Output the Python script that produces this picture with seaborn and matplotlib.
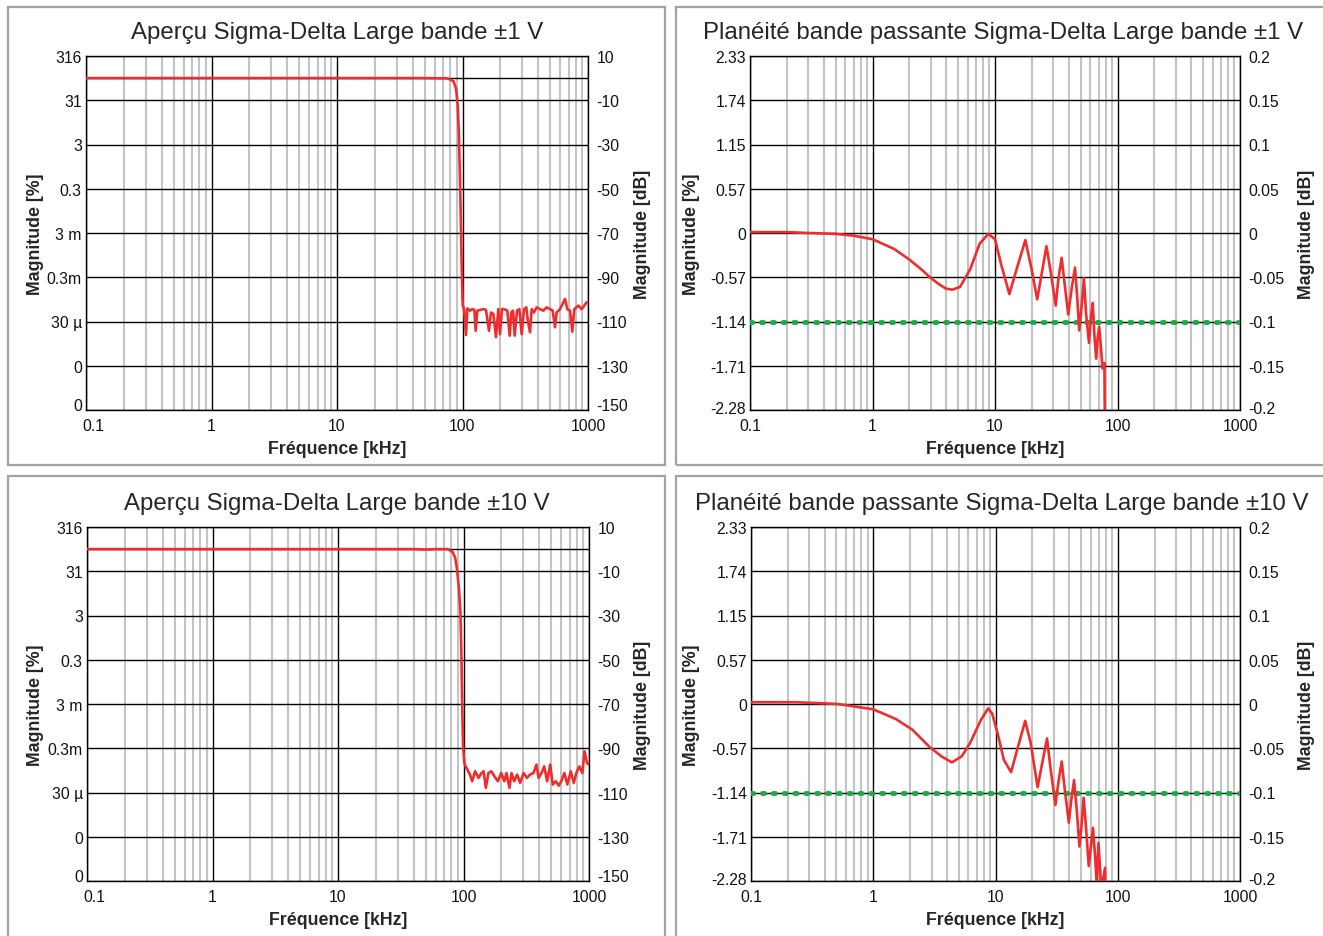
import numpy as np
import pandas as pd
import matplotlib
matplotlib.use("Agg")
import matplotlib.pyplot as plt
from matplotlib.patches import Rectangle
from matplotlib.transforms import ScaledTranslation
import seaborn as sns

sns.set_style("white")
plt.rcParams['font.family'] = ['Liberation Sans', 'DejaVu Sans']
plt.rcParams['lines.scale_dashes'] = False

# ---------------- data ----------------
titles = ["Aperçu Sigma-Delta Large bande ±1 V",
          "Planéité bande passante Sigma-Delta Large bande ±1 V",
          "Aperçu Sigma-Delta Large bande ±10 V",
          "Planéité bande passante Sigma-Delta Large bande ±10 V"]

x_ticks = [0.1, 1, 10, 100, 1000]
x_ticklabels = ["0.1", "1", "10", "100", "1000"]

ov_db_ticks = [10, 0, -10, -30, -50, -70, -90, -110, -130, -150]
ov_left_labels = ["316", "", "31", "3", "0.3", "3 m", "0.3m", "30 µ", "0", "0"]
ov_right_labels = ["10", "", "-10", "-30", "-50", "-70", "-90", "-110", "-130", "-150"]

fl_db_ticks = [0.2, 0.15, 0.1, 0.05, 0, -0.05, -0.1, -0.15, -0.2]
fl_left_labels = ["2.33", "1.74", "1.15", "0.57", "0", "-0.57", "-1.14", "-1.71", "-2.28"]
fl_right_labels = ["0.2", "0.15", "0.1", "0.05", "0", "-0.05", "-0.1", "-0.15", "-0.2"]

# Overview ±1 V
ov1_freq = [0.1, 1, 10, 50, 75, 80, 85, 89, 91.5, 93.5, 95.5, 97, 98.5, 100.4,
            103.0, 106.6, 109.3, 114.8, 120, 124.3, 127.3, 131.3, 140, 146.5, 153.9,
            162.6, 168.7, 176.1, 184.9, 192.9, 199.0, 206.4, 214.1, 227.6, 237.6,
            245.0, 252.6, 260.5, 271.8, 283.7, 296.2, 309.0, 322.4, 330.4, 345.0,
            355.7, 371.2, 389.9, 414.4, 440.5, 468.5, 497.8, 523, 545.8, 562.7,
            598.4, 655.6, 684.3, 718.8, 750, 778, 837.5, 890, 976]
ov1_db = [0, 0, 0, 0, -0.1, -0.6, -1.5, -5, -12, -25, -45, -65, -85, -102.8,
          -104.4, -116.1, -104.1, -105.1, -104.4, -104.7, -114.2, -105.1, -104.7, -104.4, -104.7,
          -114.2, -105.9, -106.6, -117.1, -104.4, -115.7, -104.4, -104.4, -105.1, -116.4,
          -105.9, -105.1, -116.4, -105.1, -104.4, -115.7, -104.4, -103.6, -108.9, -114.9,
          -104.4, -105.9, -103.6, -104.4, -105.1, -103.6, -104.4, -105.1, -112.6, -105.9,
          -104.4, -99.8, -104.4, -105.1, -114.6, -104.4, -102.8, -104.4, -101.3]

# Overview ±10 V
ov10_freq = [0.1, 1, 10, 40, 50, 60, 75, 82, 86, 89, 92, 94.6, 96, 96.9, 98, 99.2, 101.6,
             104.0, 112.5, 117.1, 123.7, 131.7, 139.2, 144.7, 150.6, 157.9, 166.8, 176.3,
             187.7, 199.9, 211.3, 219.8, 232.2, 241.5, 253.2, 267.5, 282.7, 301.1, 320.6,
             338.8, 360.8, 381.3, 396.6, 419.1, 439.4, 464.2, 490.5, 514.2, 543.3, 574.1,
             601.8, 636, 672.1, 715.8, 756.3, 792.9, 837.7, 885.1, 920.6, 965.2, 1000]
ov10_db = [0, 0, 0, 0, -0.2, 0, 0, -1.3, -4, -9.5, -18, -29, -45, -59, -75, -89, -96.7,
           -98.2, -101.9, -104.9, -100.4, -103.4, -101.2, -100.4, -107.9, -101.2, -100.4, -102.7,
           -104.9, -101.2, -104.9, -101.2, -107.9, -101.2, -104.9, -101.9, -105.7, -101.2, -103.4,
           -101.9, -101.2, -97.4, -103.4, -101.2, -98.2, -104.9, -97.4, -106.4, -104.9, -106.9,
           -104.9, -101.2, -106.4, -100.4, -105.7, -101.2, -98.2, -101.2, -91.4, -96.7, -97.4]

# Flatness ±1 V
fl1_freq = [0.1, 0.2, 0.3, 0.5, 0.7, 1.0, 1.5, 2.0, 2.5, 3.0, 3.5, 4.0, 4.5, 5.18, 6.27,
            7.5, 8.82, 10.0, 11.3, 13.1, 15.0, 17.7, 19.9, 22.1, 24.4, 26.3, 28.5, 31.3,
            32.9, 35.0, 37.2, 39.6, 42.2, 45.0, 47.0, 48.7, 51.0, 53.2, 55.3, 58.5, 60.8,
            62.8, 64.8, 67.0, 68.7, 70.9, 73.4, 75.4, 78.2, 79.5]
fl1_db = [0.001, 0.001, 0.0, -0.001, -0.003, -0.007, -0.018, -0.030, -0.041, -0.051, -0.058,
          -0.063, -0.064, -0.061, -0.041, -0.012, -0.001, -0.007, -0.037, -0.069, -0.041,
          -0.008, -0.041, -0.075, -0.041, -0.015, -0.044, -0.082, -0.052, -0.028, -0.060,
          -0.092, -0.063, -0.039, -0.075, -0.110, -0.082, -0.051, -0.090, -0.124, -0.095,
          -0.079, -0.116, -0.142, -0.120, -0.106, -0.131, -0.153, -0.147, -0.30]

# Flatness ±10 V
fl10_freq = [0.1, 0.236, 0.515, 1.0, 1.53, 2.09, 2.86, 3.6, 4.4, 5.3, 6.2, 7.6, 8.7, 9.4,
             10.4, 11.7, 13.4, 15.3, 17.5, 19.4, 22.1, 24.4, 26.4, 28.1, 30.9, 32.9, 34.8,
             36.9, 39.8, 41.7, 43.9, 46.4, 48.6, 50.5, 52.6, 55.2, 57.9, 60.3, 62.7, 65.3,
             67.3, 69.5, 73.5, 78.7, 80.8]
fl10_db = [0.002, 0.002, 0.0, -0.006, -0.017, -0.029, -0.048, -0.059, -0.066, -0.059, -0.044,
           -0.018, -0.005, -0.011, -0.033, -0.063, -0.077, -0.048, -0.019, -0.044, -0.094,
           -0.063, -0.039, -0.071, -0.114, -0.086, -0.065, -0.097, -0.134, -0.108, -0.086,
           -0.123, -0.161, -0.138, -0.106, -0.142, -0.183, -0.161, -0.140, -0.172, -0.205,
           -0.157, -0.210, -0.185, -0.30]

limit_freq = [0.1, 1000]
limit_db = [-0.1, -0.1]

RED = "#ee2e2e"
GREEN = "#1ea84a"
TICK_FS = 11.3
LABEL_FS = 12.8

# ---------------- figure ----------------
W, H = 1323, 937
fig = plt.figure(figsize=(W / 100, H / 100), dpi=100)

def fax(l, t, r, b):
    return fig.add_axes([l / W, 1 - b / H, (r - l) / W, (b - t) / H])

def shift(label, dx_px, dy_px):
    label.set_transform(label.get_transform() +
                        ScaledTranslation(dx_px / 100, dy_px / 100, fig.dpi_scale_trans))

# panel frames
for (l, t, r, b) in [(8, 8, 665, 466), (676, 8, 1330, 466), (8, 477, 665, 945), (676, 477, 1330, 945)]:
    fig.patches.append(Rectangle((l / W, 1 - b / H), (r - l) / W, (b - t) / H,
                                 transform=fig.transFigure, fill=False,
                                 edgecolor="#a3a3a3", linewidth=1.6, zorder=0))

panels = [
    dict(box=(86, 57, 588, 411), kind="ov", f=ov1_freq, d=ov1_db, title=titles[0],
         title_x=337, yl_x=44, yr_x=634),
    dict(box=(750, 57, 1240, 411), kind="fl", f=fl1_freq, d=fl1_db, title=titles[1],
         title_x=1003, yl_x=700, yr_x=1298),
    dict(box=(87, 528, 589, 882), kind="ov", f=ov10_freq, d=ov10_db, title=titles[2],
         title_x=337, yl_x=44, yr_x=634),
    dict(box=(751, 528, 1240, 882), kind="fl", f=fl10_freq, d=fl10_db, title=titles[3],
         title_x=1002, yl_x=700, yr_x=1298),
]

for p in panels:
    l, t, r, b = p["box"]
    ax = fax(l, t, r, b)
    ax.set_xscale("log")
    ax.set_xlim(0.1, 1000)
    if p["kind"] == "ov":
        ylim = (-150, 10)
        yt, yl, yr = ov_db_ticks, ov_left_labels, ov_right_labels
    else:
        ylim = (-0.2, 0.2)
        yt, yl, yr = fl_db_ticks, fl_left_labels, fl_right_labels
    ax.set_ylim(*ylim)

    # grid
    ax.set_xticks(x_ticks)
    ax.set_xticklabels(x_ticklabels)
    ax.xaxis.set_minor_locator(matplotlib.ticker.LogLocator(base=10, subs=np.arange(2, 10), numticks=20))
    ax.xaxis.set_minor_formatter(matplotlib.ticker.NullFormatter())
    ax.set_yticks(yt)
    ax.set_yticklabels(yl)
    ax.grid(which="minor", axis="x", color="#c4c4c4", linewidth=1.5, zorder=1)
    ax.grid(which="major", axis="x", color="#000000", linewidth=1.0, zorder=1.2)
    ax.grid(which="major", axis="y", color="#000000", linewidth=1.0, zorder=1.2)
    ax.set_axisbelow(True)
    ax.tick_params(axis="both", which="both", length=0, labelsize=TICK_FS, colors="#111111")
    ax.tick_params(axis="y", pad=3)
    ax.tick_params(axis="x", pad=6)
    for s in ax.spines.values():
        s.set_color("#000000")
        s.set_linewidth(1.0)

    if p["kind"] == "fl":
        sns.lineplot(x=limit_freq, y=limit_db, ax=ax, color=GREEN, linewidth=3.5,
                     linestyle=(0, (1.7, 6.1)), dash_capstyle="round", zorder=3)
    df = pd.DataFrame({"f": p["f"], "db": p["d"]})
    sns.lineplot(data=df, x="f", y="db", ax=ax, color=RED, linewidth=1.9,
                 sort=False, estimator=None, zorder=4)

    ax.set_xlabel("Fréquence [kHz]", fontsize=LABEL_FS, fontweight="bold", labelpad=5)
    ax.set_ylabel("Magnitude [%]", fontsize=LABEL_FS, fontweight="bold")
    ax.yaxis.set_label_coords((p["yl_x"] - l) / (r - l), 0.5)
    ax.set_title(p["title"], fontsize=17.3, pad=13,
                 x=(p["title_x"] - l) / (r - l))

    ax2 = ax.twinx()
    ax2.set_ylim(*ylim)
    ax2.set_yticks(yt)
    ax2.set_yticklabels(yr)
    ax2.tick_params(axis="y", length=0, labelsize=TICK_FS, pad=6, colors="#111111")
    ax2.set_ylabel("Magnitude [dB]", fontsize=LABEL_FS, fontweight="bold")
    ax2.yaxis.set_label_coords((p["yr_x"] - l) / (r - l), 0.5)
    for s in ax2.spines.values():
        s.set_visible(False)

    # bottom y labels sit slightly above the axis floor
    up = 6 if p["kind"] == "ov" else 3
    shift(ax.get_yticklabels()[-1], 0, up)
    shift(ax2.get_yticklabels()[-1], 0, up)
    if p["kind"] == "ov":
        shift(ax.get_xticklabels()[0], 7, 0)

fig.savefig("out.png", dpi=100)
